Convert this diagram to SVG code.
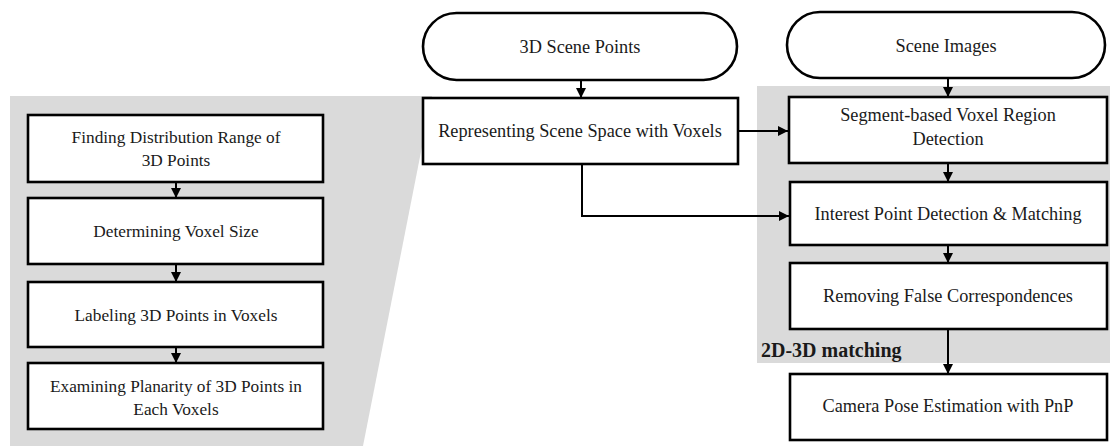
<svg xmlns="http://www.w3.org/2000/svg" width="1115" height="446" viewBox="0 0 1115 446">
<style>
  .box{fill:#fff;stroke:#000;stroke-width:2.6}
  .t{font-family:"Liberation Serif","Times New Roman",serif;font-size:18.3px;fill:#1a1a1a;text-anchor:middle}
  .s{font-size:17.3px}
  .b{font-family:"Liberation Serif","Times New Roman",serif;font-size:20px;font-weight:bold;fill:#1a1a1a}
  .c{fill:none;stroke:#000;stroke-width:2}
  .bg{fill:#dadada}
</style>
<defs>
  <marker id="ah" viewBox="0 0 10 10" refX="10" refY="5" markerWidth="5" markerHeight="5" orient="auto" markerUnits="strokeWidth">
    <path d="M0,0 L10,5 L0,10 z" fill="#000"/>
  </marker>
</defs>
<rect width="1115" height="446" fill="#fff"/>
<g id="backgrounds">
  <polygon class="bg" points="10,96 432,96 363,446 10,446"/>
  <rect class="bg" x="757" y="86" width="353" height="277"/>
</g>
<g id="connectors">
  <line class="c" x1="176" y1="182" x2="176" y2="198" marker-end="url(#ah)"/>
  <line class="c" x1="176" y1="264" x2="176" y2="282" marker-end="url(#ah)"/>
  <line class="c" x1="176" y1="347" x2="176" y2="363" marker-end="url(#ah)"/>
  <line class="c" x1="581" y1="80" x2="581" y2="98" marker-end="url(#ah)"/>
  <line class="c" x1="738" y1="131" x2="788" y2="131" marker-end="url(#ah)"/>
  <polyline class="c" points="582,164 582,216 789,216" marker-end="url(#ah)"/>
  <line class="c" x1="948" y1="78" x2="948" y2="97" marker-end="url(#ah)"/>
  <line class="c" x1="948" y1="163" x2="948" y2="182" marker-end="url(#ah)"/>
  <line class="c" x1="948" y1="245" x2="948" y2="263" marker-end="url(#ah)"/>
  <line class="c" x1="948" y1="329" x2="948" y2="374" marker-end="url(#ah)"/>
</g>
<g id="n-find">
  <rect class="box" x="28" y="115" width="295" height="67"/>
  <text class="t s" x="176" y="143">Finding Distribution Range of</text>
  <text class="t s" x="176" y="166">3D Points</text>
</g>
<g id="n-voxelsize">
  <rect class="box" x="28" y="198" width="295" height="66"/>
  <text class="t s" x="176" y="237">Determining Voxel Size</text>
</g>
<g id="n-label">
  <rect class="box" x="28" y="282" width="295" height="65"/>
  <text class="t s" x="176" y="321">Labeling 3D Points in Voxels</text>
</g>
<g id="n-planarity">
  <rect class="box" x="28" y="363" width="295" height="66"/>
  <text class="t s" x="176" y="392">Examining Planarity of 3D Points in</text>
  <text class="t s" x="176" y="415">Each Voxels</text>
</g>
<g id="n-points">
  <rect class="box" x="423" y="13" width="314" height="67" rx="33.5"/>
  <text class="t" x="580" y="53">3D Scene Points</text>
</g>
<g id="n-represent">
  <rect class="box" x="423" y="98" width="315" height="66"/>
  <text class="t" x="580" y="137">Representing Scene Space with Voxels</text>
</g>
<g id="n-images">
  <rect class="box" x="787" y="12" width="318" height="66" rx="33"/>
  <text class="t" x="946" y="52">Scene Images</text>
</g>
<g id="n-segment">
  <rect class="box" x="789" y="97" width="318" height="66"/>
  <text class="t" x="948" y="121">Segment-based Voxel Region</text>
  <text class="t" x="948" y="145">Detection</text>
</g>
<g id="n-interest">
  <rect class="box" x="790" y="182" width="317" height="63"/>
  <text class="t" x="948" y="220">Interest Point Detection &amp; Matching</text>
</g>
<g id="n-remove">
  <rect class="box" x="790" y="263" width="317" height="66"/>
  <text class="t" x="948" y="302">Removing False Correspondences</text>
</g>
<g id="n-camera">
  <rect class="box" x="790" y="374" width="317" height="66"/>
  <text class="t" x="948" y="412">Camera Pose Estimation with PnP</text>
</g>
<g id="label-matching">
  <text class="b" x="761" y="357">2D-3D matching</text>
</g>
</svg>
